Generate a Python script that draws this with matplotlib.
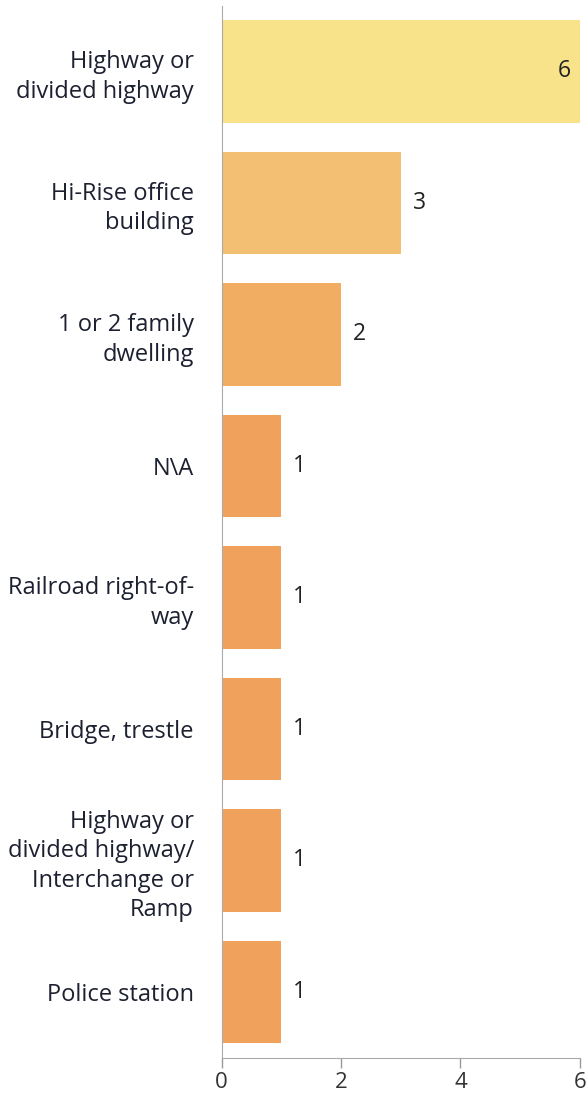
import matplotlib.pyplot as plt

plt.rcParams['font.family'] = ['Open Sans', 'DejaVu Sans']

categories = ['Highway or\ndivided highway', 'Hi-Rise office\nbuilding',
              '1 or 2 family\ndwelling', 'N\\A', 'Railroad right-of-\nway',
              'Bridge, trestle',
              'Highway or\ndivided highway/\nInterchange or\nRamp',
              'Police station']
counts = [6, 3, 2, 1, 1, 1, 1, 1]
bar_colors = ['#f9e38a', '#f3bf72', '#f1ad62', '#f0a25c', '#f0a25c',
              '#f0a25c', '#f0a25c', '#f0a25c']

fig = plt.figure(figsize=(5.88, 11.03), dpi=100)
ax = fig.add_axes([0.377, 0.041, 0.609, 0.954])

y = list(range(len(categories)))
ax.barh(y, counts, height=0.78, color=bar_colors)
ax.set_ylim(7.5, -0.5)
ax.set_xlim(0, 6)

# value labels, the big one goes inside the bar
for i, v in enumerate(counts):
    if v == max(counts):
        ax.text(v - 0.15, i, str(v), ha='right', va='center',
                fontsize=16.5, color='#222222')
    else:
        ax.text(v + 0.2, i, str(v), ha='left', va='center',
                fontsize=16.5, color='#222222')

ax.set_yticks(y)
ax.set_yticklabels(categories, fontsize=17, color='#1c2030',
                   ha='right', multialignment='right', linespacing=1.3)
ax.tick_params(axis='y', length=0, pad=20)
ax.set_xticks([0, 2, 4, 6])
ax.tick_params(axis='x', labelsize=16, colors='#333333', length=7,
               width=1, pad=3)
ax.tick_params(axis='x', color='#999999')

for s in ['top', 'right']:
    ax.spines[s].set_visible(False)
ax.spines['left'].set_color('#aaaaaa')
ax.spines['bottom'].set_color('#aaaaaa')

fig.savefig('out.png', dpi=100)
